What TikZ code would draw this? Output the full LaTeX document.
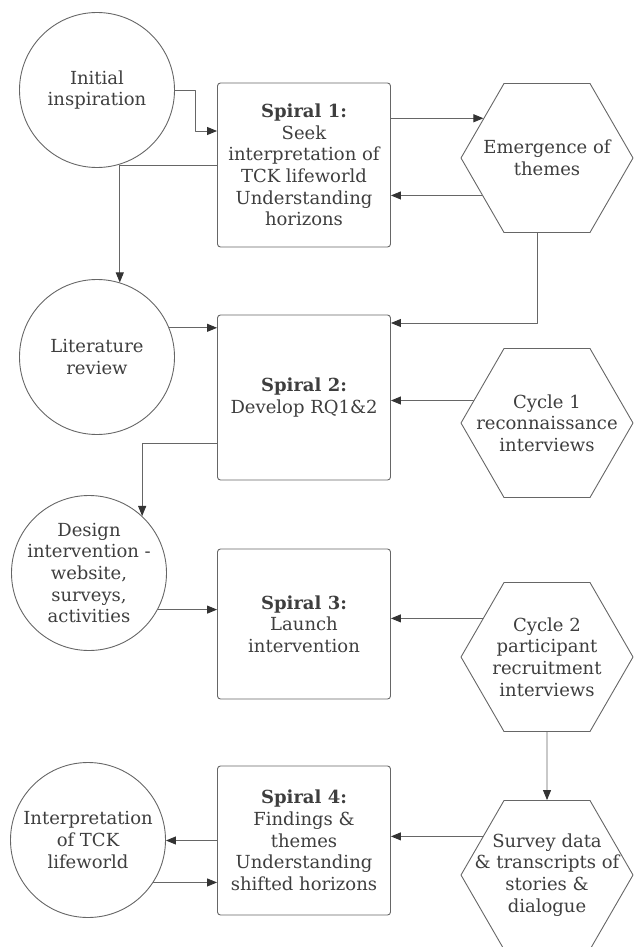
\documentclass[tikz,border=0pt]{standalone}
\usepackage{fontspec}
\setmainfont{DejaVu Serif}
\usetikzlibrary{arrows.meta,calc,shapes.geometric}
\definecolor{ln}{HTML}{666666}
\definecolor{tip}{HTML}{333333}
\definecolor{tx}{HTML}{3E3E3E}
\newcommand{\dfont}{\fontsize{18}{21.7}\selectfont}
\tikzset{
  ci/.style={circle,draw=ln,line width=0.9pt,minimum size=155pt,inner sep=-15pt,
             align=center,text=tx,font=\dfont},
  sp/.style={rectangle,rounded corners=3pt,draw=ln,line width=0.9pt,minimum width=173pt,
             inner sep=0pt,align=center,text=tx,font=\dfont},
  hx/.style={regular polygon,regular polygon sides=6,draw=ln,line width=0.9pt,
             minimum size=172pt,inner sep=-20pt,align=center,text=tx,font=\dfont},
  ar/.style={draw=ln,line width=0.9pt,-{Triangle[length=10pt,width=8pt,color=tip]}},
  every picture/.style={line cap=round,line join=round}}

\begin{document}
\begin{tikzpicture}[x=1pt,y=-1pt]
  \useasboundingbox (0,0) rectangle (635,947);
  % left column
  \node[ci] (c1) at (97,90){Initial\\inspiration};
  \node[ci] (c2) at (97,357){Literature\\review};
  \node[ci] (c3) at (89,573){Design\\intervention -\\website,\\surveys,\\activities};
  \node[ci] (c4) at (88,840){Interpretation\\of TCK\\lifeworld};
  % spirals
  \node[sp,minimum height=164pt] (s1) at (304,165){\textbf{Spiral 1:}\\Seek\\interpretation of\\TCK lifeworld\\Understanding\\horizons};
  \node[sp,minimum height=165pt] (s2) at (304,397.5){\textbf{Spiral 2:}\\Develop RQ1\&2};
  \node[sp,minimum height=150pt] (s3) at (304,624){\textbf{Spiral 3:}\\Launch\\intervention};
  \node[sp,minimum height=149pt] (s4) at (304,840.5){\textbf{Spiral 4:}\\Findings \&\\themes\\Understanding\\shifted horizons};
  % right column
  \node[hx] (h1) at (547,158){Emergence of\\themes};
  \node[hx] (h2) at (547,423){Cycle 1\\reconnaissance\\interviews};
  \node[hx] (h3) at (547,657){Cycle 2\\participant\\recruitment\\interviews};
  \node[hx] (h4) at (547,875){Survey data\\\& transcripts of\\stories \&\\dialogue};
  % connectors
  \draw[ar] (c1.east) -- ++(20,0) |- ($(s1.west)+(0,-34)$);
  \draw[ar] (s1.west) -| (c2.73);
  \draw[ar] (s1.east |- h1.148) -- (h1.148);
  \draw[ar] (h1.210) -- (h1.210 -| s1.east);
  \draw[ar] ($(h1.south)+(-10,0)$) |- ($(s2.east)+(0,-74.5)$);
  \draw[ar] (c2.22) -- (c2.22 -| s2.west);
  \draw[ar] (h2.163) -- (h2.163 -| s2.east);
  \draw[ar] ($(s2.west)+(0,45.5)$) -| (c3.47);
  \draw[ar] (c3.-28) -- (c3.-28 -| s3.west);
  \draw[ar] (h3.149) -- (h3.149 -| s3.east);
  \draw[ar] (h3.south) -- (h4.north);
  \draw[ar] (h4.149) -- (h4.149 -| s4.east);
  \draw[ar] (s4.west) -- (s4.west -| c4.east);
  \draw[ar] (c4.-33) -- (c4.-33 -| s4.west);
\end{tikzpicture}
\end{document}
